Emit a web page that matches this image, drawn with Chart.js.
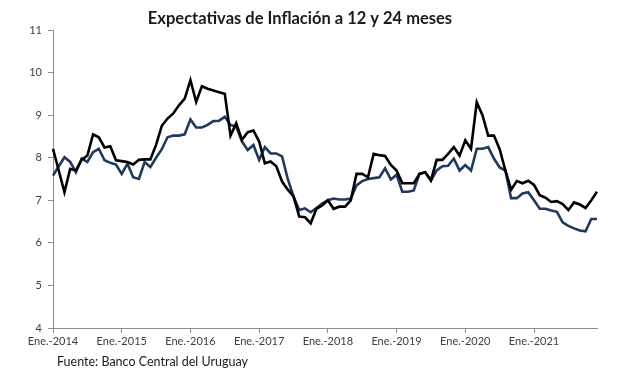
<!DOCTYPE html>
<html>
<head>
<meta charset="utf-8">
<script src="https://cdn.jsdelivr.net/npm/chart.js@4.4.1/dist/chart.umd.min.js"></script>
<style>
  html, body { margin: 0; padding: 0; background: #ffffff; }
  #wrap { position: relative; width: 617px; height: 382px; }
</style>
</head>
<body>
<div id="wrap"><canvas id="c" width="617" height="382"></canvas></div>
<script>
// ---- Data ----
const monthAbbr = ['Ene.', 'Feb.', 'Mar.', 'Abr.', 'May.', 'Jun.', 'Jul.', 'Ago.', 'Set.', 'Oct.', 'Nov.', 'Dic.'];
const years = [2014, 2015, 2016, 2017, 2018, 2019, 2020, 2021];
const yearTickLabels = ['Ene.-2014', 'Ene.-2015', 'Ene.-2016', 'Ene.-2017', 'Ene.-2018', 'Ene.-2019', 'Ene.-2020', 'Ene.-2021'];
const yTickValues = [4, 5, 6, 7, 8, 9, 10, 11];

// Expectativas a 12 meses (línea negra)
const expectativas12 = [
  8.21, 7.70, 7.19, 7.74, 7.70, 7.95, 8.05, 8.55, 8.48, 8.24, 8.27, 7.94,
  7.92, 7.90, 7.84, 7.95, 7.96, 7.96, 8.30, 8.75, 8.92, 9.04, 9.23, 9.39,
  9.82, 9.31, 9.68, 9.62, 9.58, 9.54, 9.50, 8.52, 8.81, 8.42, 8.60, 8.64,
  8.38, 7.87, 7.91, 7.80, 7.44, 7.25, 7.09, 6.62, 6.60, 6.46, 6.80, 6.88,
  7.00, 6.80, 6.85, 6.85, 7.00, 7.62, 7.62, 7.54, 8.09, 8.06, 8.04, 7.83,
  7.70, 7.40, 7.40, 7.40, 7.62, 7.66, 7.47, 7.95, 7.95, 8.09, 8.25, 8.05,
  8.41, 8.21, 9.30, 9.00, 8.52, 8.52, 8.20, 7.70, 7.25, 7.45, 7.40, 7.46,
  7.36, 7.12, 7.06, 6.96, 6.98, 6.91, 6.77, 6.95, 6.90, 6.82, 7.00, 7.20
];

// Expectativas a 24 meses (línea azul)
const expectativas24 = [
  7.58, 7.80, 8.01, 7.90, 7.66, 7.98, 7.90, 8.13, 8.21, 7.94, 7.88, 7.84,
  7.62, 7.86, 7.54, 7.50, 7.90, 7.78, 8.00, 8.20, 8.48, 8.52, 8.52, 8.55,
  8.90, 8.71, 8.71, 8.77, 8.86, 8.87, 8.96, 8.77, 8.73, 8.38, 8.18, 8.30,
  7.95, 8.25, 8.10, 8.10, 8.03, 7.50, 7.09, 6.77, 6.81, 6.72, 6.82, 6.92,
  7.00, 7.04, 7.02, 7.02, 7.04, 7.35, 7.45, 7.50, 7.52, 7.54, 7.75, 7.49,
  7.60, 7.20, 7.20, 7.23, 7.62, 7.66, 7.46, 7.70, 7.80, 7.81, 7.98, 7.70,
  7.83, 7.70, 8.21, 8.21, 8.25, 7.98, 7.77, 7.70, 7.05, 7.05, 7.16, 7.19,
  7.00, 6.80, 6.80, 6.76, 6.73, 6.48, 6.40, 6.34, 6.29, 6.27, 6.56, 6.56
];

const chartTitle = 'Expectativas de Inflación a 12 y 24 meses';
const sourceNote = 'Fuente: Banco Central del Uruguay';

// Category labels (one per month)
const categories = [];
years.forEach(y => monthAbbr.forEach(m => categories.push(m + '-' + y)));

// ---- Rendering ----
const FONT = 'Lato, "Open Sans", "Liberation Sans", sans-serif';
const AXIS = '#8c8c8c';
const TEXT = '#404040';

const textPlugin = {
  id: 'texts',
  afterDraw(chart) {
    const ctx = chart.ctx;
    ctx.save();
    ctx.fillStyle = '#1a1a1a';
    ctx.textBaseline = 'middle';
    ctx.textAlign = 'center';
    ctx.font = 'bold 16.5px ' + FONT;
    ctx.fillText(chartTitle, 300, 19);
    ctx.textAlign = 'left';
    ctx.font = '12.5px ' + FONT;
    ctx.fillText(sourceNote, 57, 362);
    ctx.restore();
  }
};

new Chart(document.getElementById('c'), {
  type: 'line',
  data: {
    labels: categories,
    datasets: [
      { label: '12 meses', data: expectativas12, borderColor: '#000000', borderWidth: 2.6,
        pointRadius: 0, tension: 0, fill: false },
      { label: '24 meses', data: expectativas24, borderColor: '#1f3a5c', borderWidth: 2.6,
        pointRadius: 0, tension: 0, fill: false }
    ]
  },
  options: {
    responsive: false,
    animation: false,
    devicePixelRatio: 1,
    layout: { padding: { left: 0, right: 20, top: 30, bottom: 0 } },
    plugins: {
      legend: { display: false },
      title: { display: false },
      tooltip: { enabled: false }
    },
    scales: {
      x: {
        type: 'category',
        offset: false,
        ticks: {
          autoSkip: false, maxRotation: 0, minRotation: 0,
          font: { family: FONT, size: 11 }, color: TEXT, padding: 2,
          callback: (v, i) => (i % 12 === 0 ? yearTickLabels[i / 12] : '')
        },
        grid: {
          drawOnChartArea: false, drawTicks: true, tickLength: 5,
          color: (c) => (c.index % 12 === 0 ? AXIS : 'rgba(0,0,0,0)')
        },
        border: { display: true, color: AXIS, width: 1 },
        afterFit(s) { s.height = 54; }
      },
      y: {
        min: 4, max: 11,
        afterBuildTicks(s) { s.ticks = yTickValues.map(v => ({ value: v })); },
        ticks: { font: { family: FONT, size: 11 }, color: TEXT, padding: 6 },
        grid: { drawOnChartArea: false, drawTicks: true, tickLength: 5, color: AXIS },
        border: { display: true, color: AXIS, width: 1 },
        afterFit(s) { s.width = 53; }
      }
    }
  },
  plugins: [textPlugin]
});
</script>
</body>
</html>
